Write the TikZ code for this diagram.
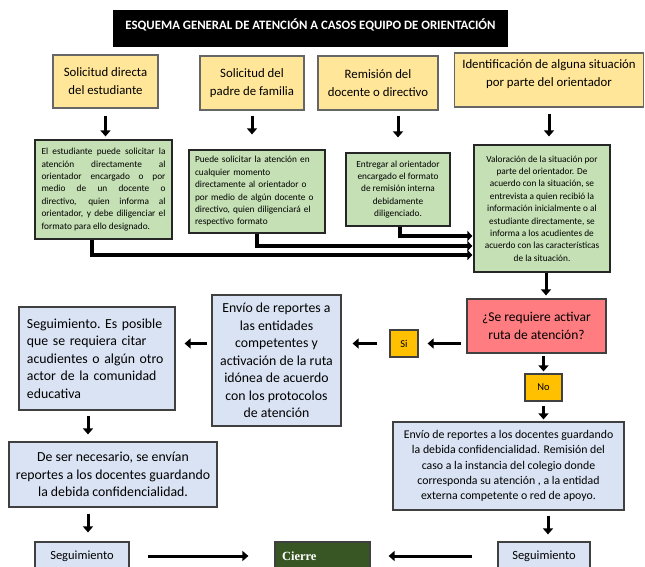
\documentclass[tikz,border=0pt]{standalone}
\usepackage{fontspec}
\setmainfont{Carlito}
\newfontfamily\cierrefont{Liberation Serif}
\usetikzlibrary{arrows.meta,calc}
\definecolor{amarillo}{RGB}{255,230,153}
\definecolor{verde}{RGB}{197,224,180}
\definecolor{azul}{RGB}{218,227,243}
\definecolor{rojo}{RGB}{255,124,128}
\definecolor{naranja}{RGB}{255,192,0}
\definecolor{verdeosc}{RGB}{56,86,35}
\definecolor{borde}{RGB}{64,64,64}
\tikzset{
  caja/.style={draw=borde,line width=1.2pt,inner sep=0pt,align=center},
  amarilla/.style={caja,fill=amarillo,draw=gray!80!black,font=\fontsize{12.8}{18}\selectfont},
  verdecaja/.style={caja,fill=verde,draw=black!85,font=\fontsize{9.3}{12.4}\selectfont},
  azulcaja/.style={caja,fill=azul,font=\fontsize{13.8}{17.5}\selectfont},
  opcion/.style={caja,fill=naranja,font=\fontsize{10.5}{12}\selectfont},
  flecha/.style={line width=3pt,-{Triangle[length=6pt,width=10pt]}},
  codo/.style={line width=3.5pt,-{Triangle[length=5pt,width=10pt]}}
}
\begin{document}
\begin{tikzpicture}[x=1pt,y=-1pt]
\useasboundingbox(0,0)rectangle(645,567);
\clip(0,0)rectangle(645,567);
% title
\node[fill=black,text=white,inner sep=0pt,minimum width=395pt,minimum height=37pt,text height=9pt,text depth=6pt,font=\bfseries\fontsize{12.8}{14}\selectfont](titulo)at(310.5,28.5){ESQUEMA GENERAL DE ATENCIÓN A CASOS EQUIPO DE ORIENTACIÓN};
% requests
\node[amarilla,minimum width=105pt,minimum height=53pt](sol1)at(105.5,81.5){Solicitud directa\\del estudiante};
\node[amarilla,minimum width=104pt,minimum height=54pt](sol2)at(252,83){Solicitud del\\padre de familia};
\node[amarilla,minimum width=120pt,minimum height=54pt](sol3)at(378,83){Remisión del\\docente o directivo};
\node[amarilla,minimum width=189pt,minimum height=54pt](sol4)at(549,80){Identificación de alguna situación\\por parte del orientador\\[-5pt]};
% green boxes
\node[verdecaja,minimum width=137pt,minimum height=99pt,text width=124pt,align=justify](ver1)at(103.5,189.5){El estudiante puede solicitar la\linebreak atención directamente al\linebreak orientador encargado o por\linebreak medio de un docente o\linebreak directivo, quien informa al\linebreak orientador, y debe diligenciar el\linebreak formato para ello designado.};
\node[verdecaja,minimum width=136pt,minimum height=83pt,text width=124pt,align=left](ver2)at(257,191.5){Puede solicitar la atención en\\cualquier momento\\directamente al orientador o\\por medio de algún docente o\\directivo, quien diligenciará el\\respectivo formato};
\node[verdecaja,minimum width=104pt,minimum height=73pt](ver3)at(398,189.5){Entregar al orientador\\encargado el formato\\de remisión interna\\debidamente\\diligenciado.};
\node[verdecaja,minimum width=136pt,minimum height=127pt](ver4)at(542,208.5){Valoración de la situación por\\parte del orientador. De\\acuerdo con la situación, se\\entrevista a quien recibió la\\información inicialmente o al\\estudiante directamente, se\\informa a los acudientes de\\acuerdo con las características\\de la situación.};
% decision
\node[caja,fill=rojo,minimum width=139pt,minimum height=54pt,font=\fontsize{13.5}{18}\selectfont](pregunta)at(536.5,326){¿Se requiere activar\\ruta de atención?};
\node[opcion,minimum width=28pt,minimum height=27pt](si)at(404,343.5){Si};
\node[opcion,minimum width=37pt,minimum height=27pt](no)at(543.5,387.5){No};
% blue boxes
\node[azulcaja,minimum width=129pt,minimum height=131pt](envio)at(276.5,360.5){Envío de reportes a\\las entidades\\competentes y\\activación de la ruta\\idónea de acuerdo\\con los protocolos\\de atención};
\node[azulcaja,minimum width=156pt,minimum height=103pt,text width=140pt,align=left](seg1)at(97,358.5){Seguimiento.\ Es posible\\que se requiera citar\\acudientes o algún otro\\actor de la comunidad\\educativa};
\node[azulcaja,minimum width=208pt,minimum height=65pt](deser)at(113,474.5){De ser necesario, se envían\\reportes a los docentes guardando\\la debida confidencialidad.};
\node[caja,fill=azul,minimum width=231pt,minimum height=88pt,font=\fontsize{11.8}{15.3}\selectfont](doc)at(508.5,466){Envío de reportes a los docentes guardando\\la debida confidencialidad. Remisión del\\caso a la instancia del colegio donde\\corresponda su atención , a la entidad\\externa competente o red de apoyo.};
% bottom row
\node[caja,fill=azul,minimum width=94pt,minimum height=28pt,font=\fontsize{12.5}{14}\selectfont](segL)at(82,556){Seguimiento};
\node[caja,fill=verdeosc,text=white,minimum width=95pt,minimum height=28pt,text width=81pt,align=left,font=\cierrefont\bfseries\fontsize{12.5}{14}\selectfont](cierre)at(322.5,556){Cierre};
\node[caja,fill=azul,minimum width=92pt,minimum height=28pt,font=\fontsize{12.5}{14}\selectfont](segR)at(544,556){Seguimiento};
% arrows
\draw[flecha,shorten <=7pt,shorten >=3pt](sol1.south)--(sol1.south|-ver1.north);
\draw[flecha,shorten <=5pt,shorten >=15pt](sol2.south)--(sol2.south|-ver2.north);
\draw[flecha,shorten <=5pt,shorten >=15pt](ver3.north|-sol3.south)--(ver3.north);
\draw[flecha,shorten <=6pt,shorten >=8pt](sol4.south)--(sol4.south|-ver4.north);
\draw[codo,shorten >=1pt]([xshift=-11.5pt]ver1.south)|-([yshift=-46.5pt]ver4.west);
\draw[codo,shorten >=1pt]([xshift=0pt]ver2.south)|-([yshift=-37.5pt]ver4.west);
\draw[codo,shorten >=1pt]([xshift=2pt]ver3.south)|-([yshift=-27.5pt]ver4.west);
\draw[flecha,shorten >=3pt]([xshift=4pt]ver4.south)--([xshift=4pt]ver4.south|-pregunta.north);
\draw[flecha,shorten <=5pt,shorten >=9pt](pregunta.west|-si)--(si.east);
\draw[flecha,shorten <=12pt,shorten >=11pt](si.west)--(envio.east|-si.west);
\draw[flecha,shorten <=4pt,shorten >=9pt](envio.west|-si.west)--(seg1.east|-si.west);
\draw[flecha,shorten <=2pt,shorten >=2pt](no.north|-pregunta.south)--(no.north);
\draw[flecha,shorten <=4pt,shorten >=2pt](no.south)--(no.south|-doc.north);
\draw[flecha,shorten <=5pt,shorten >=7pt]([xshift=-9pt]seg1.south)--([xshift=-9pt]seg1.south|-deser.north);
\draw[flecha,shorten <=6pt,shorten >=9pt]([xshift=6pt]segL.north|-deser.south)--([xshift=6pt]segL.north);
\draw[flecha,shorten <=5pt,shorten >=7pt]([xshift=4pt]segR.north|-doc.south)--([xshift=4pt]segR.north);
\draw[flecha,shorten <=18pt,shorten >=26pt](segL)--(cierre);
\draw[flecha,shorten <=25pt,shorten >=18pt](segR)--(cierre);
\end{tikzpicture}
\end{document}
